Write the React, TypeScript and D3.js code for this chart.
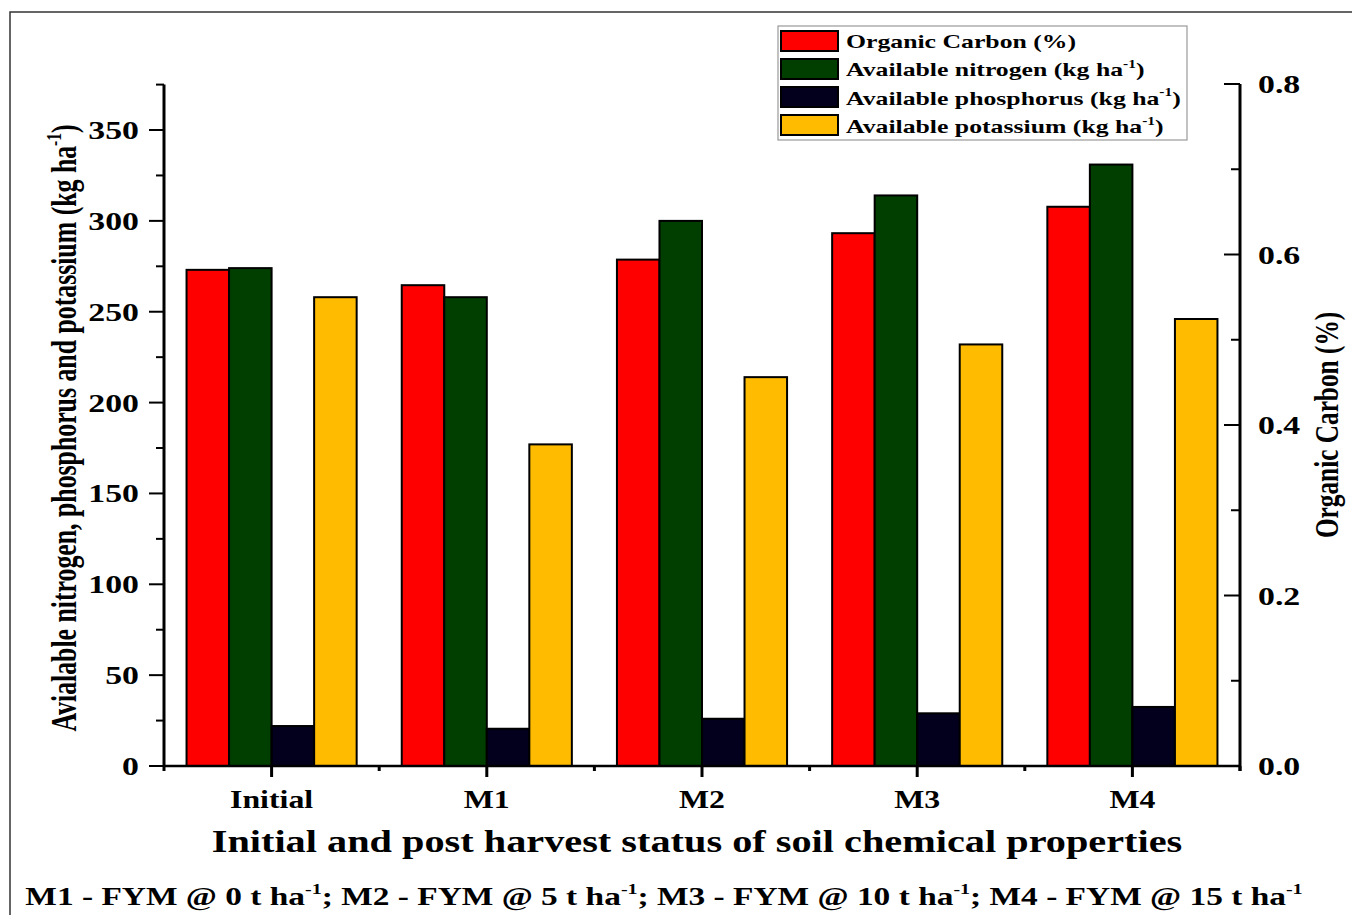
import * as d3 from "d3";

const categories = ["Initial", "M1", "M2", "M3", "M4"];
const organicCarbon = [0.582, 0.564, 0.594, 0.625, 0.656];
const nitrogen = [274, 258, 300, 314, 331];
const phosphorus = [22, 20.5, 26, 29, 32.5];
const potassium = [258, 177, 214, 232, 246];

const seriesKeys = ["oc", "n", "p", "k"];
const seriesColors = ["#ff0000", "#013f01", "#02001c", "#ffbb00"];

const leftTicks = [0, 50, 100, 150, 200, 250, 300, 350];
const leftMinorTicks = [25, 75, 125, 175, 225, 275, 325, 375];
const rightTicks = [0, 0.2, 0.4, 0.6, 0.8];
const rightMinorTicks = [0.1, 0.3, 0.5, 0.7];

const FONT = "'Liberation Serif', 'Times New Roman', serif";

// the original picture is stretched sideways, so text gets a horizontal scale too
const T = ({ x, y, size, anchor = "middle", rot = 0, k = 1.3, children }: any) => (
  <text
    transform={`translate(${x},${y}) scale(${k},1)${rot ? ` rotate(${rot})` : ""}`}
    fontSize={size}
    fontWeight="bold"
    fontFamily={FONT}
    textAnchor={anchor}
    fill="#000"
  >
    {children}
  </text>
);

const Sup = ({ size, after }: any) => (
  <>
    <tspan fontSize={size * 0.6} dy={-size * 0.42}>-1</tspan>
    <tspan dy={size * 0.42}>{after}</tspan>
  </>
);

const App = () => {
  const left = 164, right = 1240, bottom = 766;

  const x = d3.scaleBand().domain(categories).range([left, right]).paddingInner(0).paddingOuter(0);
  const xs = d3.scaleBand().domain(seriesKeys).range([0, x.bandwidth()]).paddingInner(0).paddingOuter(0.53);
  const yL = d3.scaleLinear().domain([0, 375]).range([bottom, 84.6]);
  const yR = d3.scaleLinear().domain([0, 0.8]).range([bottom, 84]);

  const rows = categories.map((c, i) => ({
    c,
    vals: [
      { key: "oc", y: yR(organicCarbon[i]) },
      { key: "n", y: yL(nitrogen[i]) },
      { key: "p", y: yL(phosphorus[i]) },
      { key: "k", y: yL(potassium[i]) },
    ],
  }));

  const legendItems = [
    { label: "Organic Carbon (%)", sup: false },
    { label: "Available nitrogen (kg ha", sup: true },
    { label: "Available phosphorus (kg ha", sup: true },
    { label: "Available potassium (kg ha", sup: true },
  ];

  const bandEdges = categories.map((c) => x(c) as number).concat([right]);

  return (
    <svg width={1352} height={915} style={{ position: "absolute", left: 0, top: 0, background: "#fff" }}>
      <rect x={10} y={12} width={1400} height={1000} fill="none" stroke="#333" strokeWidth={1.5} />

      {/* bars */}
      {rows.map((r) => (
        <g key={r.c} transform={`translate(${x(r.c)},0)`}>
          {r.vals.map((v, j) => (
            <rect
              key={v.key}
              x={xs(v.key)}
              y={v.y}
              width={xs.bandwidth()}
              height={bottom - v.y}
              fill={seriesColors[j]}
              stroke="#000"
              strokeWidth={2}
            />
          ))}
        </g>
      ))}

      {/* x axis */}
      <line x1={left} x2={right} y1={bottom} y2={bottom} stroke="#000" strokeWidth={2.5} />
      {categories.map((c) => (
        <line key={c} x1={(x(c) as number) + x.bandwidth() / 2} x2={(x(c) as number) + x.bandwidth() / 2}
          y1={bottom} y2={bottom + 11} stroke="#000" strokeWidth={3} />
      ))}
      {bandEdges.map((e, i) => (
        <line key={i} x1={e} x2={e} y1={bottom} y2={bottom + 5} stroke="#000" strokeWidth={3} />
      ))}
      {categories.map((c) => (
        <T key={c} x={(x(c) as number) + x.bandwidth() / 2} y={808} size={24.5}>{c}</T>
      ))}

      {/* left axis */}
      <line x1={left} x2={left} y1={bottom + 1} y2={yL(375)} stroke="#000" strokeWidth={3} />
      {leftTicks.map((t) => (
        <g key={t}>
          <line x1={left - 15} x2={left} y1={yL(t)} y2={yL(t)} stroke="#000" strokeWidth={2} />
          <T x={139} y={yL(t) + 9} size={26} anchor="end">{t}</T>
        </g>
      ))}
      {leftMinorTicks.map((t) => (
        <line key={t} x1={left - 8} x2={left} y1={yL(t)} y2={yL(t)} stroke="#000" strokeWidth={2} />
      ))}

      {/* right axis */}
      <line x1={right} x2={right} y1={bottom + 5} y2={yR(0.8)} stroke="#000" strokeWidth={3} />
      {rightTicks.map((t) => (
        <g key={t}>
          <line x1={right - 16} x2={right} y1={yR(t)} y2={yR(t)} stroke="#000" strokeWidth={2} />
          <T x={1258} y={yR(t) + 9} size={26} anchor="start">{t.toFixed(1)}</T>
        </g>
      ))}
      {rightMinorTicks.map((t) => (
        <line key={t} x1={right - 9} x2={right} y1={yR(t)} y2={yR(t)} stroke="#000" strokeWidth={2} />
      ))}

      {/* axis titles */}
      <T x={76} y={428} size={25.8} rot={-90} k={1.35}>
        Avialable nitrogen, phosphorus and potassium (kg ha<Sup size={25.8} after=")" />
      </T>
      <T x={1338} y={425} size={25.3} rot={-90} k={1.35}>Organic Carbon (%)</T>
      <T x={697} y={852} size={31}>Initial and post harvest status of soil chemical properties</T>
      <T x={664} y={905} size={25.7}>
        M1 - FYM @ 0 t ha<Sup size={25.7} after="; M2 - FYM @ 5 t ha" />
        <Sup size={25.7} after="; M3 - FYM @ 10 t ha" />
        <Sup size={25.7} after="; M4 - FYM @ 15 t ha" />
        <tspan fontSize={25.7 * 0.6} dy={-25.7 * 0.42}>-1</tspan>
      </T>

      {/* legend */}
      <rect x={778} y={26} width={409} height={114} fill="#fff" stroke="#999" strokeWidth={1.2} />
      {legendItems.map((it, i) => (
        <g key={it.label}>
          <rect x={781} y={31 + i * 28} width={57} height={20} fill={seriesColors[i]} stroke="#000" strokeWidth={2} />
          <T x={846} y={48 + i * 28.3} size={19.8} anchor="start">
            {it.label}
            {it.sup ? <Sup size={19.8} after=")" /> : null}
          </T>
        </g>
      ))}
    </svg>
  );
};

export default App;
